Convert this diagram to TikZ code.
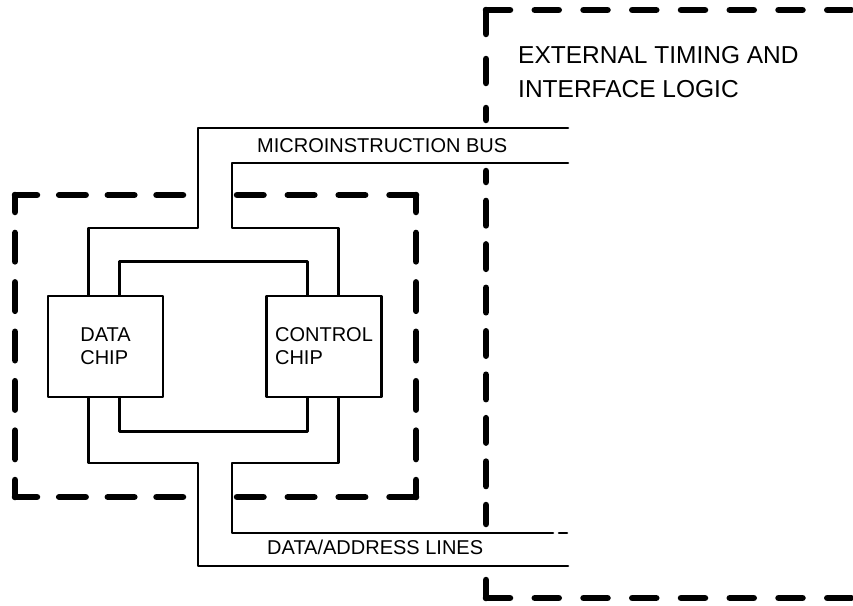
\documentclass[tikz,border=0pt]{standalone}
\usepackage{fontspec}
\setmainfont{Liberation Sans}
% mot canh net dut: x1,y1,x2,y2, so net giua, net dau, net cuoi, do dai net
\newcommand{\dashside}[8]{%
	\pgfmathsetmacro{\sidelen}{veclen(#3-#1,#4-#2)}%
	\pgfmathsetmacro{\sidegap}{(\sidelen-#6-#7-#5*#8)/(#5+1)}%
	\pgfmathsetmacro{\sidephase}{#8-#6}%
	\draw[bdash, dash pattern=on #8pt off \sidegap pt, dash phase=\sidephase pt] (#1,#2) -- (#3,#4);}
\begin{document}
\begin{tikzpicture}[x=1pt, y=-1pt, line join=round, line cap=round,
	wire/.style={line width=2.6pt},
	bdash/.style={line width=6.5pt},
	chip/.style={draw, line width=2.6pt, minimum width=115pt, minimum height=101pt,
		inner sep=0pt, align=left, font=\fontsize{20}{23}\selectfont},
	lbl/.style={anchor=base west, inner sep=0pt, font=\fontsize{20}{24}\selectfont},
	biglbl/.style={anchor=base west, inner sep=0pt, font=\fontsize{24.5}{34}\selectfont}]
	% 1. Khung trang
	\clip (0,0) rectangle (853,605);
	
	% 2. Khung ngoai (logic dinh thoi ngoai) - ho ben phai
	\dashside{486}{10}{900}{10}{7}{24}{24}{24}
	\dashside{486}{10}{486}{120}{1}{24}{12}{24}
	\dashside{486}{171}{486}{524}{7}{11}{19}{24.5}
	\draw[bdash] (486,580) -- (486,598);
	\dashside{486}{598}{900}{598}{7}{24}{24}{24}
	\node[biglbl] (ext1) at (518,63) {EXTERNAL TIMING AND};
	\node[biglbl] (ext2) at (518,97) {INTERFACE LOGIC};
	
	% 3. Khung trong (hai chip)
	\dashside{15}{195}{183}{195}{2}{22}{26.5}{26.5}
	\dashside{15}{195}{15}{497}{5}{17}{17}{28.5}
	\dashside{15}{497}{183}{497}{2}{22}{26.5}{26.5}
	\dashside{237}{195}{416}{195}{2}{26.5}{26.5}{26.5}
	\dashside{416}{195}{416}{497}{5}{17}{17}{28.5}
	\dashside{237}{497}{416}{497}{2}{26.5}{26.5}{26.5}
	
	% 4. Hai chip
	\node[chip] (dchip) at (105.5,346.5) {DATA\\CHIP};
	\node[chip] (cchip) at (324,346.5) {CONTROL\\CHIP};
	
	% 5. Dau cuoi cac bus
	\coordinate (mib-a) at (568,128);
	\coordinate (mib-b) at (568,163);
	\coordinate (dal-a) at (553,533);
	\coordinate (dal-b) at (568,566);
	
	% 6. Bus vi lenh
	\draw[wire] ([xshift=42pt]dchip.north west) |- (198,228) |- (mib-a);
	\draw[wire] ([xshift=73pt]cchip.north west) |- (232,228) |- (mib-b);
	\node[lbl] (mibl) at (257,152) {MICROINSTRUCTION BUS};
	
	% 7. Noi giua hai chip
	\draw[wire] ([xshift=73pt]dchip.north west) -- ++(0,-33) -| ([xshift=42pt]cchip.north west);
	\draw[wire] ([xshift=73pt]dchip.south west) -- ++(0,33) -| ([xshift=42pt]cchip.south west);
	
	% 8. Duong du lieu / dia chi
	\draw[wire] ([xshift=42pt]dchip.south west) |- (198,463) |- (dal-b);
	\draw[wire] ([xshift=73pt]cchip.south west) |- (232,463) |- (dal-a);
	\draw[wire] ([xshift=6pt]dal-a) -- ++(8,0);
	\node[lbl] (dall) at (267,554) {DATA/ADDRESS LINES};
\end{tikzpicture}
\end{document}
